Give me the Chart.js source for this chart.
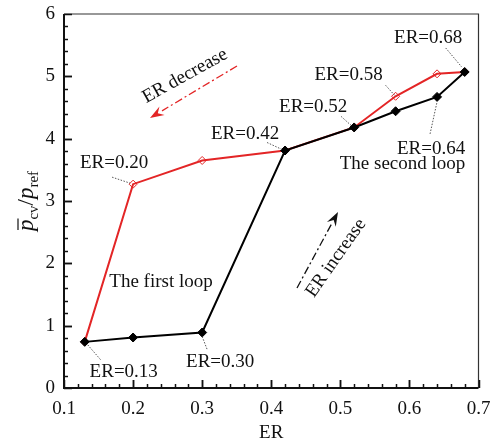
<!DOCTYPE html>
<html><head><meta charset="utf-8">
<script src="https://cdn.jsdelivr.net/npm/chart.js@4/dist/chart.umd.min.js"></script>
<style>html,body{margin:0;padding:0;background:#fff}#wrap{width:493px;height:445px}
.pre{font-family:"Liberation Serif";position:absolute;left:-999px;top:-999px}</style>
</head><body><span class="pre">ER <i>p</i></span><div id="wrap"><canvas id="c" width="493" height="445"></canvas></div>
<script>
// ---- data ----
const erIncrease = [0.13, 0.20, 0.30, 0.42, 0.52, 0.58, 0.64, 0.68];
const pIncrease  = [0.74, 0.81, 0.89, 3.81, 4.18, 4.44, 4.67, 5.07];
const erDecrease = [0.68, 0.64, 0.58, 0.52, 0.42, 0.30, 0.20, 0.13];
const pDecrease  = [5.07, 5.04, 4.68, 4.18, 3.81, 3.65, 3.27, 0.74];
const xTickValues = [0.1, 0.2, 0.3, 0.4, 0.5, 0.6, 0.7];
const yTickValues = [0, 1, 2, 3, 4, 5, 6];
const xTitle = 'ER';
const pointLabels = ['ER=0.13','ER=0.20','ER=0.30','ER=0.42','ER=0.52','ER=0.58','ER=0.64','ER=0.68'];
const loopLabels = ['The first loop', 'The second loop'];
const arrowLabels = ['ER decrease', 'ER increase'];

const RED = '#e32526';
const FONT = 'Liberation Serif';

const toXY = (xs, ys) => xs.map((x, i) => ({x, y: ys[i]}));

const decor = {
  id: 'decor',
  afterDraw(chart) {
    const ctx = chart.ctx;
    const xs = chart.scales.x, ys = chart.scales.y;
    const ca = chart.chartArea;
    const X = v => xs.getPixelForValue(v), Y = v => ys.getPixelForValue(v);
    ctx.save();
    // frame
    ctx.strokeStyle = '#333'; ctx.lineWidth = 1.2;
    ctx.beginPath(); ctx.moveTo(ca.left, ca.top); ctx.lineTo(ca.right, ca.top); ctx.lineTo(ca.right, ca.bottom); ctx.stroke();
    ctx.strokeStyle = '#111'; ctx.lineWidth = 2;
    ctx.beginPath(); ctx.moveTo(ca.left, ca.top); ctx.lineTo(ca.left, ca.bottom); ctx.lineTo(ca.right, ca.bottom); ctx.stroke();
    // inward ticks
    ctx.lineWidth = 1.5;
    for (let i = 0; i < xTickValues.length - 1; i++) {
      const a = xTickValues[i], b = xTickValues[i + 1];
      for (let k = 0; k <= 5; k++) {
        const v = a + (b - a) * k / 5; const px = Math.round(X(v)) + 0.5;
        const len = (k === 0 || k === 5) ? 8 : 4;
        ctx.beginPath(); ctx.moveTo(px, ca.bottom); ctx.lineTo(px, ca.bottom - len); ctx.stroke();
      }
    }
    for (let i = 0; i < yTickValues.length - 1; i++) {
      const a = yTickValues[i], b = yTickValues[i + 1];
      for (let k = 0; k <= 5; k++) {
        const v = a + (b - a) * k / 5; const py = Math.round(Y(v)) + 0.5;
        const len = (k === 0 || k === 5) ? 8 : 4;
        ctx.beginPath(); ctx.moveTo(ca.left, py); ctx.lineTo(ca.left + len, py); ctx.stroke();
      }
    }
    // point labels with dotted leaders: [labelIndex, er, p, dx, dy, l1x, l1y, l2x, l2y]
    const specs = [
      [0, erIncrease[0], pIncrease[0], 39, 35, 3, 3, 16, 18],
      [1, erDecrease[6], pDecrease[6], -19, -16, -21, -7, -3, -1],
      [2, erIncrease[2], pIncrease[2], 18, 34, 0, 4, 5, 17],
      [3, erIncrease[3], pIncrease[3], -40, -12, -18, -8, -3, -1],
      [4, erIncrease[4], pIncrease[4], -41, -15, -13, -11, -3, -2],
      [5, erDecrease[2], pDecrease[2], -47, -16, -10, -11, -1, -1],
      [6, erIncrease[6], pIncrease[6], -6, 57, -7, 37, 0, 5],
      [7, erIncrease[7], pIncrease[7], -36.5, -29, -19, -24, -3, -5]
    ];
    ctx.font = '19px "' + FONT + '"'; ctx.fillStyle = '#111';
    ctx.textAlign = 'center'; ctx.textBaseline = 'alphabetic';
    specs.forEach(s => {
      const px = X(s[1]), py = Y(s[2]);
      ctx.fillText(pointLabels[s[0]], px + s[3], py + s[4]);
      ctx.save(); ctx.strokeStyle = '#555'; ctx.lineWidth = 1; ctx.setLineDash([1.5, 1.5]);
      ctx.beginPath(); ctx.moveTo(px + s[5], py + s[6]); ctx.lineTo(px + s[7], py + s[8]); ctx.stroke();
      ctx.restore();
    });
    // loop labels
    ctx.fillText(loopLabels[0], 161, 286.5);
    ctx.fillText(loopLabels[1], 402.5, 168.5);
    // arrows
    function arrow(x1, y1, x2, y2, color) {
      ctx.save(); ctx.strokeStyle = color; ctx.fillStyle = color; ctx.lineWidth = 1.3;
      const ang = Math.atan2(y2 - y1, x2 - x1);
      const hl = 14, hw = 5;
      const bx = x2 - hl * Math.cos(ang), by = y2 - hl * Math.sin(ang);
      ctx.setLineDash([8, 3, 2, 3]);
      ctx.beginPath(); ctx.moveTo(x1, y1); ctx.lineTo(bx, by); ctx.stroke();
      ctx.setLineDash([]);
      ctx.beginPath(); ctx.moveTo(x2, y2);
      ctx.lineTo(bx + hw * Math.sin(ang), by - hw * Math.cos(ang));
      ctx.lineTo(bx + 0.35 * hl * Math.cos(ang), by + 0.35 * hl * Math.sin(ang));
      ctx.lineTo(bx - hw * Math.sin(ang), by + hw * Math.cos(ang));
      ctx.closePath(); ctx.fill();
      ctx.restore();
    }
    arrow(237, 66, 150, 118, RED);
    arrow(297, 288, 338, 212, '#111');
    function rotText(t, x, y, deg) {
      ctx.save(); ctx.translate(x, y); ctx.rotate(deg * Math.PI / 180);
      ctx.textAlign = 'center'; ctx.textBaseline = 'middle'; ctx.fillText(t, 0, 0); ctx.restore();
    }
    ctx.fillStyle = '#111';
    rotText(arrowLabels[0], 185, 76, -29);
    rotText(arrowLabels[1], 336, 258, -55);
    // x title
    ctx.textAlign = 'center'; ctx.textBaseline = 'alphabetic';
    ctx.fillText(xTitle, (ca.left + ca.right) / 2, 438);
    // y title: p̄_cv / p_ref (rotated)
    ctx.save();
    ctx.translate(33, (ca.top + ca.bottom) / 2); ctx.rotate(-Math.PI / 2);
    const big = 'italic 23px "' + FONT + '"', norm = '23px "' + FONT + '"', sub = '15px "' + FONT + '"';
    const parts = [['p', big, 0], ['cv', sub, 5], ['/', norm, 0], ['p', big, 0], ['ref', sub, 5]];
    let total = 0;
    parts.forEach(p => { ctx.font = p[1]; p.push(ctx.measureText(p[0]).width); total += p[3]; });
    let cx = -total / 2;
    ctx.textAlign = 'left'; ctx.textBaseline = 'alphabetic';
    parts.forEach((p, i) => {
      ctx.font = p[1]; ctx.fillText(p[0], cx, p[2]);
      if (i === 0) { ctx.lineWidth = 1.2; ctx.strokeStyle = '#111'; ctx.beginPath(); ctx.moveTo(cx + 1, -15); ctx.lineTo(cx + p[3] + 1, -15); ctx.stroke(); }
      cx += p[3];
    });
    ctx.restore();
    ctx.restore();
  }
};

function noPad(s) { s.paddingTop = 0; s.paddingBottom = 0; s.paddingLeft = 0; s.paddingRight = 0; }

function build() {
  new Chart(document.getElementById('c'), {
    type: 'scatter',
    data: {
      datasets: [
        { label: 'ER increase', data: toXY(erIncrease, pIncrease), showLine: true,
          borderColor: '#000', borderWidth: 2, pointStyle: 'rectRot', pointRadius: 4.5,
          pointBackgroundColor: '#000', pointBorderColor: '#000', pointBorderWidth: 1, order: 0 },
        { label: 'ER decrease', data: toXY(erDecrease, pDecrease), showLine: true,
          borderColor: RED, borderWidth: 2, pointStyle: 'rectRot', pointRadius: 4,
          pointBackgroundColor: 'rgba(255,255,255,0)', pointBorderColor: RED, pointBorderWidth: 1, order: 1 }
      ]
    },
    options: {
      responsive: false, animation: false, devicePixelRatio: 1,
      layout: { padding: { left: 0, right: 14.5, top: 14, bottom: 0 } },
      plugins: { legend: { display: false }, tooltip: { enabled: false } },
      scales: {
        x: { type: 'linear', min: 0.1, max: 0.7,
          afterFit: s => { s.height = 57; noPad(s); },
          afterBuildTicks: s => { s.ticks = xTickValues.map(v => ({value: v})); },
          grid: { display: false, drawTicks: true, tickLength: 10 }, border: { display: false },
          ticks: { color: '#111', font: { family: FONT, size: 19 }, padding: 0, maxRotation: 0,
            callback: v => v.toFixed(1) } },
        y: { type: 'linear', min: 0, max: 6,
          afterFit: s => { s.width = 64; noPad(s); },
          afterBuildTicks: s => { s.ticks = yTickValues.map(v => ({value: v})); },
          grid: { display: false, drawTicks: true, tickLength: 9 }, border: { display: false },
          ticks: { color: '#111', font: { family: FONT, size: 19 }, padding: 0,
            callback: v => String(v) } }
      }
    },
    plugins: [decor]
  });
}
Promise.all([
  document.fonts.load('19px "Liberation Serif"'),
  document.fonts.load('italic 23px "Liberation Serif"')
]).then(build, build);
</script></body></html>
